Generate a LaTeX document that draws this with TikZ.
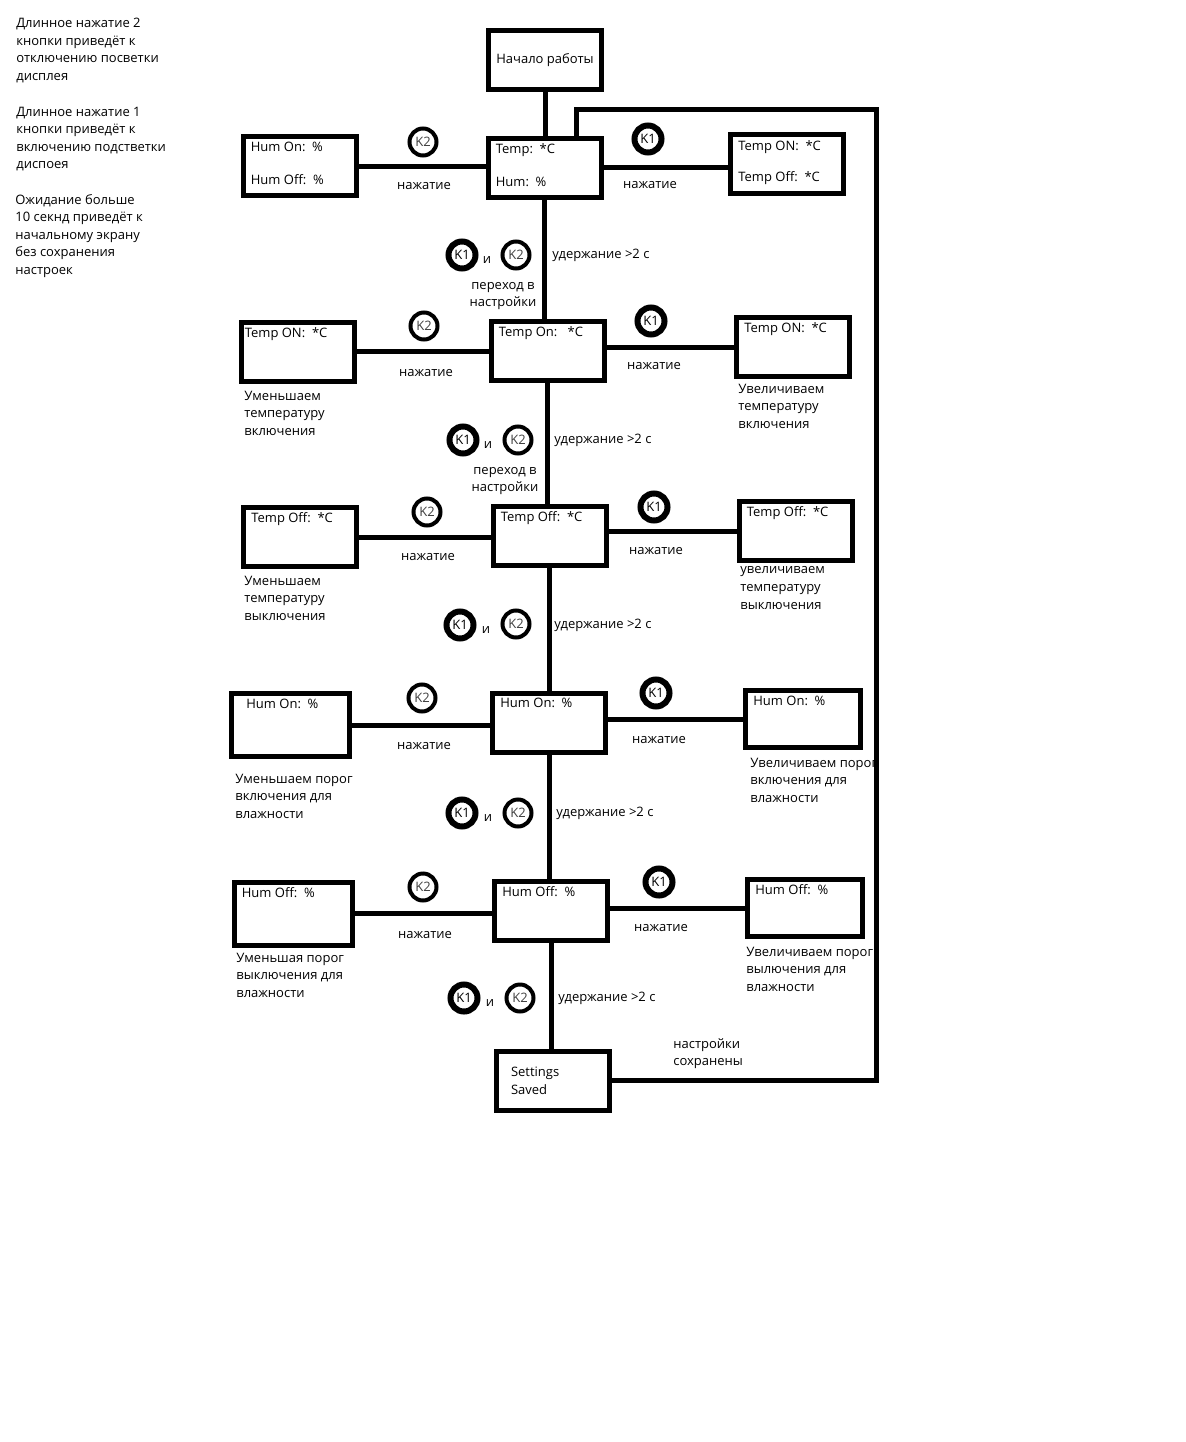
\documentclass[tikz,border=0pt]{standalone}
\usepackage{fontspec}
\setmainfont{Open Sans}

\tikzstyle{screen-base}=[rectangle,
                         draw=black,
                         line width=0.1cm,
                         inner sep=0pt
                        ]
\tikzstyle{screen}=[screen-base, minimum width=2.26cm, minimum height=1.18cm]
\tikzstyle{screen-wide}=[screen-base, minimum width=2.36cm, minimum height=1.26cm]
\tikzstyle{screen-flat}=[screen-base, minimum width=2.30cm, minimum height=1.14cm]
\tikzstyle{screen-text}=[anchor=north west, align=left, draw=none, line width=0.4pt,
                         minimum width=0pt, minimum height=0pt,
                         inner xsep=0.2cm, inner ysep=0.15cm]
\tikzstyle{button-base}=[circle, draw=black, inner sep=0pt, minimum size=0.54cm]
\tikzstyle{button-k1}=[button-base, line width=0.12cm]
\tikzstyle{button-k2}=[button-base, line width=0.08cm, text=black!75]
\tikzstyle{note}=[align=left, anchor=west, inner sep=0pt]
\tikzstyle{link}=[line width=0.1cm]

\begin{document}
\begin{tikzpicture}[font=\fontsize{7.4}{10}\selectfont]
\useasboundingbox (0cm,0cm) rectangle (23.7cm,-28.84cm);

% notes
\node at (0.32cm, -1.01cm) (note_k2) [note] {Длинное нажатие 2\\кнопки приведёт к\\отключению посветки\\дисплея};
\node at (0.32cm, -2.78cm) (note_k1) [note] {Длинное нажатие 1\\кнопки приведёт к\\включению подстветки\\диспоея};
\node at (0.30cm, -4.72cm) (note_wait) [note] {Ожидание больше\\10 секнд приведёт к\\начальному экрану\\без сохранения\\настроек};

% screens
\node at (10.90cm, -1.21cm) (start_screen) [screen] {Начало работы};
\node at (10.89cm, -3.36cm) (main_screen) [screen, label={[screen-text]north west:{Temp:\ \ *C\\[0.31cm]Hum:\ \ \%}}] {};
\node at (5.99cm, -3.33cm) (main_hum) [screen, label={[screen-text]north west:{Hum On:\ \ \%\\[0.31cm]Hum Off:\ \ \%}}] {};
\node at (15.74cm, -3.29cm) (main_temp) [screen, label={[screen-text]north west:{Temp ON:\ \ *C\\[0.27cm]Temp Off:\ \ *C}}] {};

\node at (10.95cm, -7.01cm) (ton_screen) [screen, label={[screen-text]north west:{Temp On:\ \ \ *C}}] {};
\node at (5.95cm, -7.03cm) (ton_down) [screen, label={[screen-text, inner xsep=0.12cm]north west:{Temp ON:\ \ *C}}] {};
\node at (15.86cm, -6.94cm) (ton_up) [screen, label={[screen-text]north west:{Temp ON:\ \ *C}}] {};

\node at (10.99cm, -10.71cm) (toff_screen) [screen, label={[screen-text]north west:{Temp Off:\ \ *C}}] {};
\node at (6.00cm, -10.74cm) (toff_down) [screen, label={[screen-text]north west:{Temp Off:\ \ *C}}] {};
\node at (15.91cm, -10.62cm) (toff_up) [screen, label={[screen-text]north west:{Temp Off:\ \ *C}}] {};

\node at (10.98cm, -14.45cm) (hon_screen) [screen, label={[screen-text]north west:{Hum On:\ \ \%}}] {};
\node at (5.81cm, -14.50cm) (hon_down) [screen-wide, label={[screen-text, inner xsep=0.34cm]north west:{Hum On:\ \ \%}}] {};
\node at (16.06cm, -14.38cm) (hon_up) [screen-flat, label={[screen-text]north west:{Hum On:\ \ \%}}] {};

\node at (11.02cm, -18.21cm) (hoff_screen) [screen, label={[screen-text]north west:{Hum Off:\ \ \%}}] {};
\node at (5.86cm, -18.27cm) (hoff_down) [screen-wide, label={[screen-text]north west:{Hum Off:\ \ \%}}] {};
\node at (16.10cm, -18.16cm) (hoff_up) [screen-flat, label={[screen-text]north west:{Hum Off:\ \ \%}}] {};

\node at (11.06cm, -21.61cm) (saved_screen) [screen, text width=1.68cm, align=left] {Settings\\Saved};

% captions
\node at (4.88cm, -8.26cm) (ton_down_text) [note] {Уменьшаем\\температуру\\включения};
\node at (14.76cm, -8.12cm) (ton_up_text) [note] {Увеличиваем\\температуру\\включения};
\node at (4.88cm, -11.96cm) (toff_down_text) [note] {Уменьшаем\\температуру\\выключения};
\node at (14.80cm, -11.76cm) (toff_up_text) [note] {увеличиваем\\температуру\\выключения};
\node at (4.70cm, -15.92cm) (hon_down_text) [note] {Уменьшаем порог\\включения для\\влажности};
\node at (15.00cm, -15.60cm) (hon_up_text) [note] {Увеличиваем порог\\включения для\\влажности};
\node at (4.72cm, -19.50cm) (hoff_down_text) [note] {Уменьшая порог\\выключения для\\влажности};
\node at (14.92cm, -19.38cm) (hoff_up_text) [note] {Увеличиваем порог\\вылючения для\\влажности};
\node at (13.46cm, -21.07cm) (saved_text) [note] {настройки\\сохранены};

% buttons
\node at (8.46cm, -2.84cm) (main_k2) [button-k2] {K2};
\node at (12.96cm, -2.78cm) (main_k1) [button-k1] {K1};
\node at (8.48cm, -3.72cm) (main_press_l) [] {нажатие};
\node at (13.00cm, -3.70cm) (main_press_r) [] {нажатие};

\node at (8.48cm, -6.52cm) (ton_k2) [button-k2] {K2};
\node at (13.02cm, -6.42cm) (ton_k1) [button-k1] {K1};
\node at (8.52cm, -7.46cm) (ton_press_l) [] {нажатие};
\node at (13.08cm, -7.32cm) (ton_press_r) [] {нажатие};

\node at (8.54cm, -10.24cm) (toff_k2) [button-k2] {K2};
\node at (13.08cm, -10.14cm) (toff_k1) [button-k1] {K1};
\node at (8.56cm, -11.14cm) (toff_press_l) [] {нажатие};
\node at (13.12cm, -11.02cm) (toff_press_r) [] {нажатие};

\node at (8.44cm, -13.96cm) (hon_k2) [button-k2] {K2};
\node at (13.12cm, -13.86cm) (hon_k1) [button-k1] {K1};
\node at (8.48cm, -14.92cm) (hon_press_l) [] {нажатие};
\node at (13.18cm, -14.80cm) (hon_press_r) [] {нажатие};

\node at (8.46cm, -17.74cm) (hoff_k2) [button-k2] {K2};
\node at (13.18cm, -17.64cm) (hoff_k1) [button-k1] {K1};
\node at (8.50cm, -18.70cm) (hoff_press_l) [] {нажатие};
\node at (13.22cm, -18.56cm) (hoff_press_r) [] {нажатие};

% hold both buttons
\node at (9.24cm, -5.10cm) (hold1_k1) [button-k1] {K1};
\node at (9.74cm, -5.20cm) (hold1_and) [] {и};
\node at (10.32cm, -5.10cm) (hold1_k2) [button-k2] {K2};
\node at (11.04cm, -5.10cm) (hold1_text) [note] {удержание >2 с};
\node at (10.06cm, -5.92cm) (hold1_go) [align=center] {переход в\\настройки};

\node at (9.26cm, -8.80cm) (hold2_k1) [button-k1] {K1};
\node at (9.76cm, -8.90cm) (hold2_and) [] {и};
\node at (10.36cm, -8.80cm) (hold2_k2) [button-k2] {K2};
\node at (11.08cm, -8.80cm) (hold2_text) [note] {удержание >2 с};
\node at (10.10cm, -9.62cm) (hold2_go) [align=center] {переход в\\настройки};

\node at (9.20cm, -12.50cm) (hold3_k1) [button-k1] {K1};
\node at (9.72cm, -12.60cm) (hold3_and) [] {и};
\node at (10.32cm, -12.48cm) (hold3_k2) [button-k2] {K2};
\node at (11.08cm, -12.50cm) (hold3_text) [note] {удержание >2 с};

\node at (9.24cm, -16.26cm) (hold4_k1) [button-k1] {K1};
\node at (9.76cm, -16.36cm) (hold4_and) [] {и};
\node at (10.36cm, -16.26cm) (hold4_k2) [button-k2] {K2};
\node at (11.12cm, -16.26cm) (hold4_text) [note] {удержание >2 с};

\node at (9.28cm, -19.96cm) (hold5_k1) [button-k1] {K1};
\node at (9.80cm, -20.06cm) (hold5_and) [] {и};
\node at (10.40cm, -19.96cm) (hold5_k2) [button-k2] {K2};
\node at (11.16cm, -19.96cm) (hold5_text) [note] {удержание >2 с};

\coordinate (loop_ne) at (17.52cm, -2.20cm);
\coordinate (loop_nw) at (11.52cm, -2.20cm);

% links
\draw[link] (start_screen) -- (start_screen |- main_screen.north);
\draw[link] (main_hum) -- (main_hum -| main_screen.west);
\draw[link] (main_screen) -- (main_screen -| main_temp.west);
\draw[link] (main_screen) -- (main_screen |- ton_screen.north);
\draw[link] (ton_down) -- (ton_down -| ton_screen.west);
\draw[link] (ton_up) -- (ton_up -| ton_screen.east);
\draw[link] (ton_screen) -- (ton_screen |- toff_screen.north);
\draw[link] (toff_down) -- (toff_down -| toff_screen.west);
\draw[link] (toff_up) -- (toff_up -| toff_screen.east);
\draw[link] (toff_screen) -- (toff_screen |- hon_screen.north);
\draw[link] (hon_down) -- (hon_down -| hon_screen.west);
\draw[link] (hon_up) -- (hon_up -| hon_screen.east);
\draw[link] (hon_screen) -- (hon_screen |- hoff_screen.north);
\draw[link] (hoff_down) -- (hoff_down -| hoff_screen.west);
\draw[link] (hoff_up) -- (hoff_up -| hoff_screen.east);
\draw[link] (hoff_screen) -- (hoff_screen |- saved_screen.north);
\draw[link] (saved_screen) -| (loop_ne) -| (main_screen.north -| loop_nw);
\end{tikzpicture}
\end{document}
